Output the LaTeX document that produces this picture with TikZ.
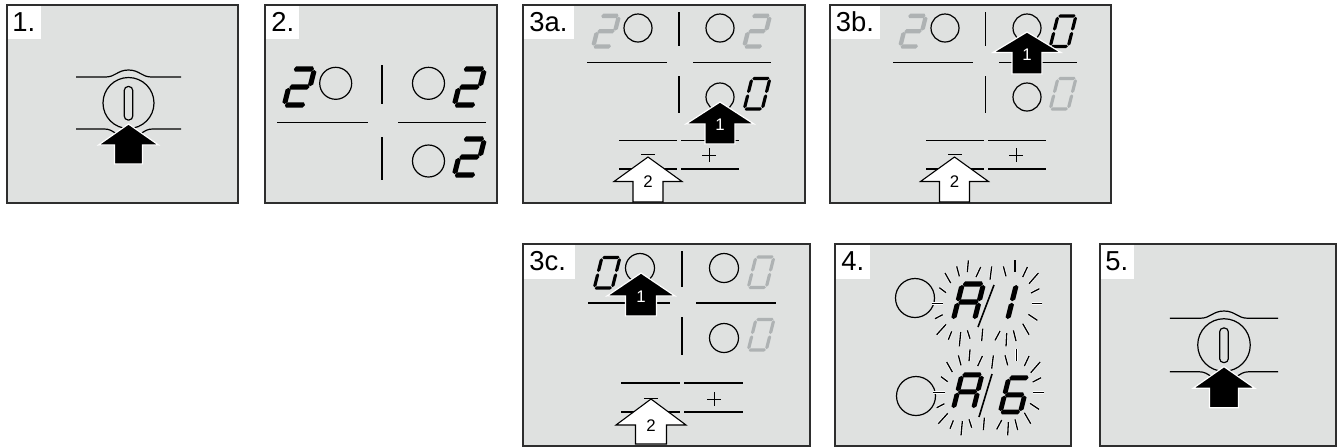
\documentclass[tikz,border=0pt]{standalone}
\usepackage{fontspec}
\setmainfont{Liberation Sans}
\definecolor{panelgrey}{HTML}{DFE1E0}
\definecolor{framegrey}{HTML}{2E2E2E}
\definecolor{dimgrey}{HTML}{AEB2B3}
\tikzset{
  panel/.style={fill=panelgrey,draw=framegrey,line width=0.8pt},
  tagbox/.style={fill=white},
  tagtext/.style={anchor=base west,inner sep=0pt,font=\fontsize{13.7}{14}\selectfont,text=black},
  thin line/.style={draw=black,line width=0.6pt},
  fine line/.style={draw=black,line width=0.42pt},
  arrow solid/.style={fill=black,draw=white,line width=0.6pt,miter limit=10},
  arrow open/.style={fill=white,draw=black,line width=0.55pt,miter limit=10},
  arrow one/.style={inner sep=0pt,font=\fontsize{8.4}{9}\selectfont,text=white},
  arrow two/.style={inner sep=0pt,font=\fontsize{8.4}{9}\selectfont,text=black},
  ray halo/.style={draw=white,line width=1.3pt,line cap=butt},
  ray line/.style={draw=black,line width=0.65pt},
}
% seven-segment pieces: short tapered ends so the segments almost touch
\newcommand\hsg[1]{\fill (0.8,#1) -- (2.6,#1-\tk) -- (19.2,#1-\tk) -- (21,#1) -- (19.2,#1+\tk) -- (2.6,#1+\tk) -- cycle;}
\newcommand\vsg[3]{\fill (#1,#2) -- (#1+\tk,#2+1.8) -- (#1+\tk,#3-1.8) -- (#1,#3) -- (#1-\tk,#3-1.8) -- (#1-\tk,#2+1.8) -- cycle;}
\newcommand\sgA{\hsg{-36}}
\newcommand\sgB{\vsg{21.5}{-35}{-18.8}}
\newcommand\sgC{\vsg{21.5}{-17.2}{-1}}
\newcommand\sgD{\hsg{0}}
\newcommand\sgE{\vsg{0.3}{-17.2}{-1}}
\newcommand\sgF{\vsg{0.3}{-35}{-18.8}}
\newcommand\sgG{\hsg{-18}}
% origin x, origin y, scale, thickness, colour, segments
\newcommand\segdigit[6]{\begin{scope}[shift={(#1,#2)},scale=#3,xslant=0.25,fill=#5]
  \def\tk{#4}\foreach \sg in {#6}{\csname sg\sg\endcsname}\end{scope}}
\newcommand\blockarrow[8]{% tipx tipy headw headh shaftw height style
  \draw[#7] (#1,#2) -- (#1+#3/2,#2+#4) -- (#1+#5/2,#2+#4) -- (#1+#5/2,#2+#6)
     -- (#1-#5/2,#2+#6) -- (#1-#5/2,#2+#4) -- (#1-#3/2,#2+#4) -- cycle;#8}
\newcommand\knob[3]{\begin{scope}[shift={(#1,#2)},scale=#3]
  \draw[thin line] (-52.5,-26) -- (-23,-26) .. controls (-13,-26) and (-11,-33) .. (0,-33)
     .. controls (11,-33) and (13,-26) .. (23,-26) -- (52.5,-26);
  \draw[thin line] (-52.5,26) -- (-24,26) .. controls (-19,26) and (-16,28) .. (-12,31);
  \draw[thin line] (52.5,26) -- (24,26) .. controls (19,26) and (16,28) .. (12,31);
  \draw[thin line] (0,0) circle[radius=25.5];
  \draw[thin line,rounded corners=1.9pt,fill=panelgrey] (-4.2,-16.5) rectangle (4.2,17);
  \blockarrow{0}{21}{60}{21}{28}{40}{arrow solid}{}
\end{scope}}
\newcommand\raydraw[1]{\begin{scope}[shift={(#1,237)},x=0.1667pt,y=-0.1667pt]
  \foreach \xa/\ya/\xb/\yb in {345/108/362/138,380/88/388/118,415/70/412/105,452/90/438/120,485/88/480/128,520/88/528/118,555/70/555/105,592/90/578/120,625/108/597/140,628/155/603/168,637/200/605/200,622/250/595/232,597/293/578/260,558/312/550/280,528/328/530/288,495/310/510/282,455/312/458/275,420/305/412/280,388/328/392/285,355/308/365/283,320/293/348/262,315/245/338/233,305/200/340/200,328/152/348/167}{
    \draw[ray halo] (\xa,\ya) -- (\xb,\yb);
    \draw[ray line] (\xa,\ya) -- (\xb,\yb);
    \draw[ray halo] (\xa+5,\ya+267) -- (\xb+5,\yb+267);
    \draw[ray line] (\xa+5,\ya+267) -- (\xb+5,\yb+267);
  }\end{scope}}
\begin{document}
\begin{tikzpicture}[x=0.5pt,y=-0.5pt]
\useasboundingbox (0,0) rectangle (1341,447);
\fill[white] (0,0) rectangle (1341,447);
% ---- panels
\draw[panel] (7,5) rectangle (238,203);
\draw[panel] (265,5) rectangle (497,203);
\draw[panel] (523,5) rectangle (805,203);
\draw[panel] (830,5) rectangle (1111,203);
\draw[panel] (523,244) rectangle (810,446);
\draw[panel] (835,244) rectangle (1071,446);
\draw[panel] (1100,244) rectangle (1336,446);
% ---- tags
\fill[tagbox] (7.5,5.5) rectangle (41,39);
\node[tagtext] (t1) at (12,31) {1.};
\fill[tagbox] (265.5,5.5) rectangle (299,39);
\node[tagtext] (t2) at (271,31) {2.};
\fill[tagbox] (523.5,5.5) rectangle (574,39);
\node[tagtext] (t3a) at (529,31) {3a.};
\fill[tagbox] (830.5,5.5) rectangle (880,39);
\node[tagtext] (t3b) at (835.5,31) {3b.};
\fill[tagbox] (523.5,244.5) rectangle (575,279);
\node[tagtext] (t3c) at (529,270.5) {3c.};
\fill[tagbox] (835.5,244.5) rectangle (870,279);
\node[tagtext] (t4) at (841,270.5) {4.};
\fill[tagbox] (1100.5,244.5) rectangle (1134,279);
\node[tagtext] (t5) at (1105,270.5) {5.};
% ---- panel 1 and 5
\knob{128.5}{103}{1}
\knob{1224}{345}{1.03}
% ---- panel 2
\draw[thin line] (335.7,83.3) circle[radius=16];
\draw[thin line] (428.5,83.3) circle[radius=16];
\draw[thin line] (428.5,161) circle[radius=16];
\draw[thin line] (382,65) -- (382,104);
\draw[thin line] (382,137) -- (382,180);
\draw[thin line] (277,122.5) -- (368,122.5);
\draw[thin line] (398,122.5) -- (486,122.5);
\segdigit{284}{105}{1}{2.6}{black}{A,B,G,E,D}
\segdigit{454}{105}{1}{2.6}{black}{A,B,G,E,D}
\segdigit{454}{175}{1}{2.6}{black}{A,B,G,E,D}
% ---- panel 3a
\draw[thin line] (638,28) circle[radius=14];
\draw[thin line] (720,28) circle[radius=14];
\draw[thin line] (720,97) circle[radius=14];
\draw[thin line] (679,12) -- (679,46);
\draw[thin line] (679,76) -- (679,113);
\draw[thin line] (587,62.5) -- (667,62.5);
\draw[thin line] (693,62.5) -- (771,62.5);
\draw[thin line] (619,140.5) -- (677,140.5);
\draw[thin line] (681,140.5) -- (739,140.5);
\draw[thin line] (619,169) -- (677,169);
\draw[thin line] (681,169) -- (739,169);
\draw[fine line] (641,154.5) -- (655,154.5);
\draw[fine line] (702,155) -- (716,155) (709,148) -- (709,162);
\segdigit{593}{46.5}{0.85}{2.6}{dimgrey}{A,B,G,E,D}
\segdigit{744}{46.5}{0.85}{2.6}{dimgrey}{A,B,G,E,D}
\segdigit{744}{109}{0.85}{1.9}{black}{A,B,C,D,E,F}
\blockarrow{720}{102}{68}{22}{30}{42}{arrow solid}{}
\node[arrow one] (n3a1) at (720,124.5) {1};
\blockarrow{648}{157}{68}{24.5}{30}{45}{arrow open}{}
\node[arrow two] (n3a2) at (648,182) {2};
% ---- panel 3b
\draw[thin line] (945,28) circle[radius=14];
\draw[thin line] (1027,28) circle[radius=14];
\draw[thin line] (1027,97) circle[radius=14];
\draw[thin line] (985.5,12) -- (985.5,46);
\draw[thin line] (985.5,76) -- (985.5,113);
\draw[thin line] (893,62.5) -- (973,62.5);
\draw[thin line] (999,62.5) -- (1077,62.5);
\draw[thin line] (926,140.5) -- (984,140.5);
\draw[thin line] (988,140.5) -- (1046,140.5);
\draw[thin line] (926,169) -- (984,169);
\draw[thin line] (988,169) -- (1046,169);
\draw[fine line] (948,154.5) -- (962,154.5);
\draw[fine line] (1009,155) -- (1023,155) (1016,148) -- (1016,162);
\segdigit{900}{46.5}{0.85}{2.6}{dimgrey}{A,B,G,E,D}
\segdigit{1050}{46.5}{0.85}{1.9}{black}{A,B,C,D,E,F}
\segdigit{1050}{109}{0.85}{1.9}{dimgrey}{A,B,C,D,E,F}
\blockarrow{1027}{32}{68}{20.5}{30}{42}{arrow solid}{}
\node[arrow one] (n3b1) at (1027,55) {1};
\blockarrow{954.5}{157}{68}{24.5}{30}{45}{arrow open}{}
\node[arrow two] (n3b2) at (954.5,182) {2};
% ---- panel 3c
\draw[thin line] (640,268) circle[radius=14.5];
\draw[thin line] (724,268) circle[radius=14.5];
\draw[thin line] (724,338) circle[radius=14.5];
\draw[thin line] (682,251) -- (682,287);
\draw[thin line] (682,317) -- (682,355);
\draw[thin line] (588,303) -- (670,303);
\draw[thin line] (696,303) -- (776,303);
\draw[thin line] (621,383) -- (680,383);
\draw[thin line] (684,383) -- (743,383);
\draw[thin line] (621,412) -- (680,412);
\draw[thin line] (684,412) -- (743,412);
\draw[fine line] (644,398) -- (658,398);
\draw[fine line] (707,399) -- (721,399) (714,392) -- (714,406);
\segdigit{594}{288}{0.85}{1.9}{black}{A,B,C,D,E,F}
\segdigit{748}{287.5}{0.85}{1.9}{dimgrey}{A,B,C,D,E,F}
\segdigit{748}{350}{0.85}{1.9}{dimgrey}{A,B,C,D,E,F}
\blockarrow{641}{273}{68}{23}{31}{43}{arrow solid}{}
\node[arrow one] (n3c1) at (641,297) {1};
\blockarrow{651}{399}{70}{26}{31}{45}{arrow open}{}
\node[arrow two] (n3c2) at (651,426) {2};
% ---- panel 4
\draw[thin line] (915,298) circle[radius=19.5];
\draw[thin line] (916,396) circle[radius=19.5];
\raydraw{830}
\segdigit{953}{320}{1}{2.6}{black}{A,B,C,E,F,G}
\segdigit{986}{320}{1}{2.6}{black}{B,C}
\segdigit{953}{409}{0.95}{2.6}{black}{A,B,C,E,F,G}
\segdigit{1000}{412}{0.95}{2.6}{black}{A,F,G,E,D,C}
\draw[thin line,line width=0.8pt] (994,285) -- (978,327);
\draw[thin line,line width=0.8pt] (992,374) -- (979,417);
\end{tikzpicture}
\end{document}
